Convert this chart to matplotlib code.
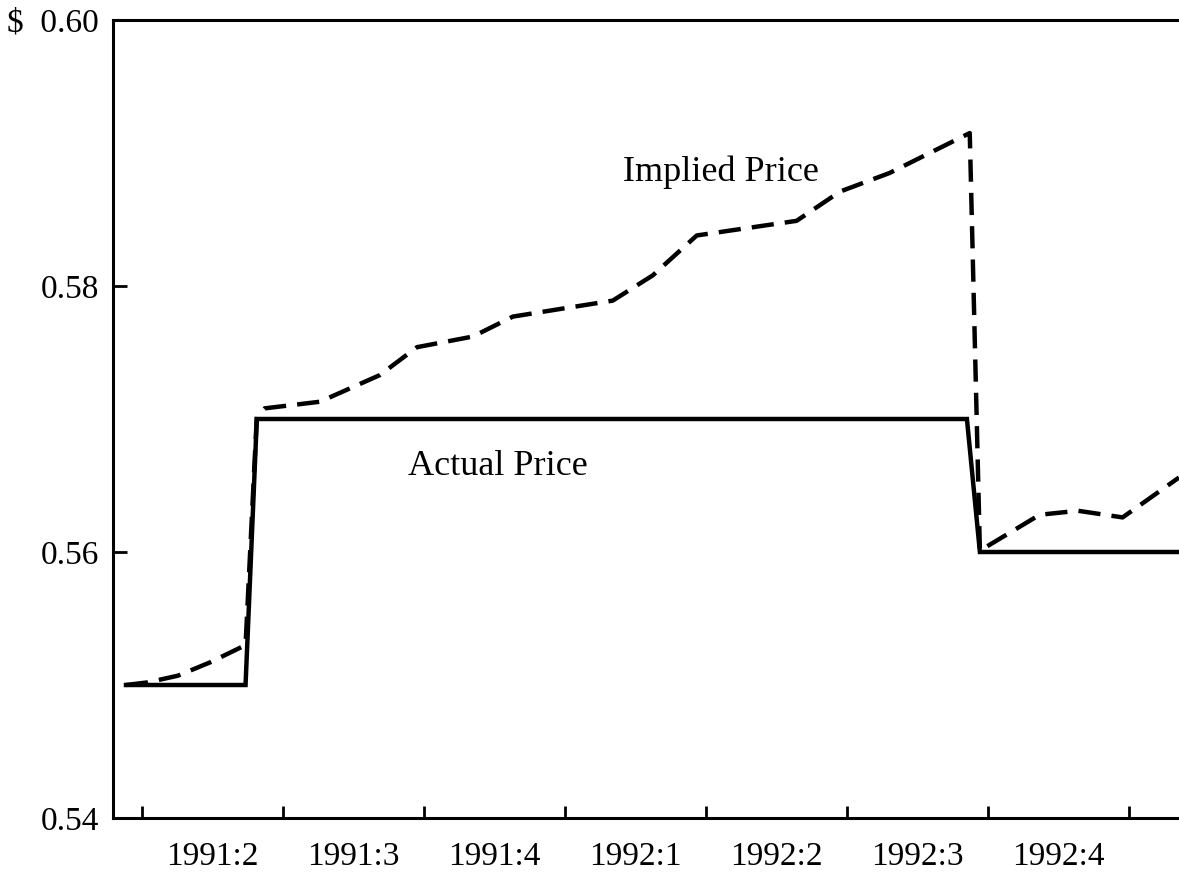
#!/usr/bin/env python3
"""Actual vs implied price, 1991:2 - 1992:4."""
import matplotlib
matplotlib.use('Agg')
import matplotlib.pyplot as plt
from matplotlib.ticker import FixedLocator, NullFormatter

# time in decimal years (1991.25 = start of 1991:2)
implied_t = [1991.222, 1991.261, 1991.314, 1991.371, 1991.434, 1991.454, 1991.468,
             1991.566, 1991.672, 1991.738, 1991.837, 1991.908, 1991.996, 1992.085,
             1992.156, 1992.234, 1992.411, 1992.488, 1992.576, 1992.718, 1992.736,
             1992.842, 1992.910, 1992.989, 1993.089]
implied_p = [0.5500, 0.5502, 0.5507, 0.5517, 0.5530, 0.5702, 0.5708,
             0.5713, 0.5733, 0.5754, 0.5762, 0.5777, 0.5783, 0.5789,
             0.5808, 0.5838, 0.5849, 0.5871, 0.5885, 0.5915, 0.5601,
             0.5628, 0.5631, 0.5626, 0.5656]

actual_t = [1991.222, 1991.434, 1991.454, 1992.713, 1992.736, 1993.089]
actual_p = [0.55, 0.55, 0.57, 0.57, 0.56, 0.56]

quarter_edges = [1991.25, 1991.5, 1991.75, 1992.0, 1992.25, 1992.5, 1992.75, 1993.0]
quarter_labels = ['1991:2', '1991:3', '1991:4', '1992:1', '1992:2', '1992:3', '1992:4']
yticks = [0.54, 0.56, 0.58, 0.60]
ylabels = ['0.54', '0.56', '0.58', '$  0.60']

plt.rcParams['font.family'] = ['Liberation Serif', 'DejaVu Serif']

fig = plt.figure(figsize=(11.79, 8.75), dpi=100)
ax = fig.add_axes([113 / 1179, (875 - 818) / 875, (1179 - 113) / 1179, (818 - 20) / 875])

ax.plot(actual_t, actual_p, color='black', lw=3.2, solid_joinstyle='miter')
ax.plot(implied_t, implied_p, color='black', lw=3.2, dashes=(5, 2.5))

ax.set_xlim(1991.199, 1993.089)
ax.set_ylim(0.54, 0.60)

ax.xaxis.set_major_locator(FixedLocator(quarter_edges))
ax.xaxis.set_major_formatter(NullFormatter())
mids = [(a + b) / 2 for a, b in zip(quarter_edges[:-1], quarter_edges[1:])]
ax.set_xticks(mids, minor=True)
ax.set_xticklabels(quarter_labels, minor=True, fontsize=24)
ax.tick_params(axis='x', which='major', direction='in', length=9, width=2)
ax.tick_params(axis='x', which='minor', length=0, pad=17)

ax.set_yticks(yticks)
ax.set_yticklabels(ylabels, fontsize=24)
ax.tick_params(axis='y', direction='in', length=10, width=2, pad=10)

for side in ['left', 'bottom', 'top']:
    ax.spines[side].set_linewidth(2.2)
ax.spines['right'].set_visible(False)

ax.text(1992.103, 0.58857, 'Implied Price', fontsize=26, va='center', ha='left')
ax.text(1991.7216, 0.5664, 'Actual Price', fontsize=26, va='center', ha='left')

fig.savefig('out.png', dpi=100)
